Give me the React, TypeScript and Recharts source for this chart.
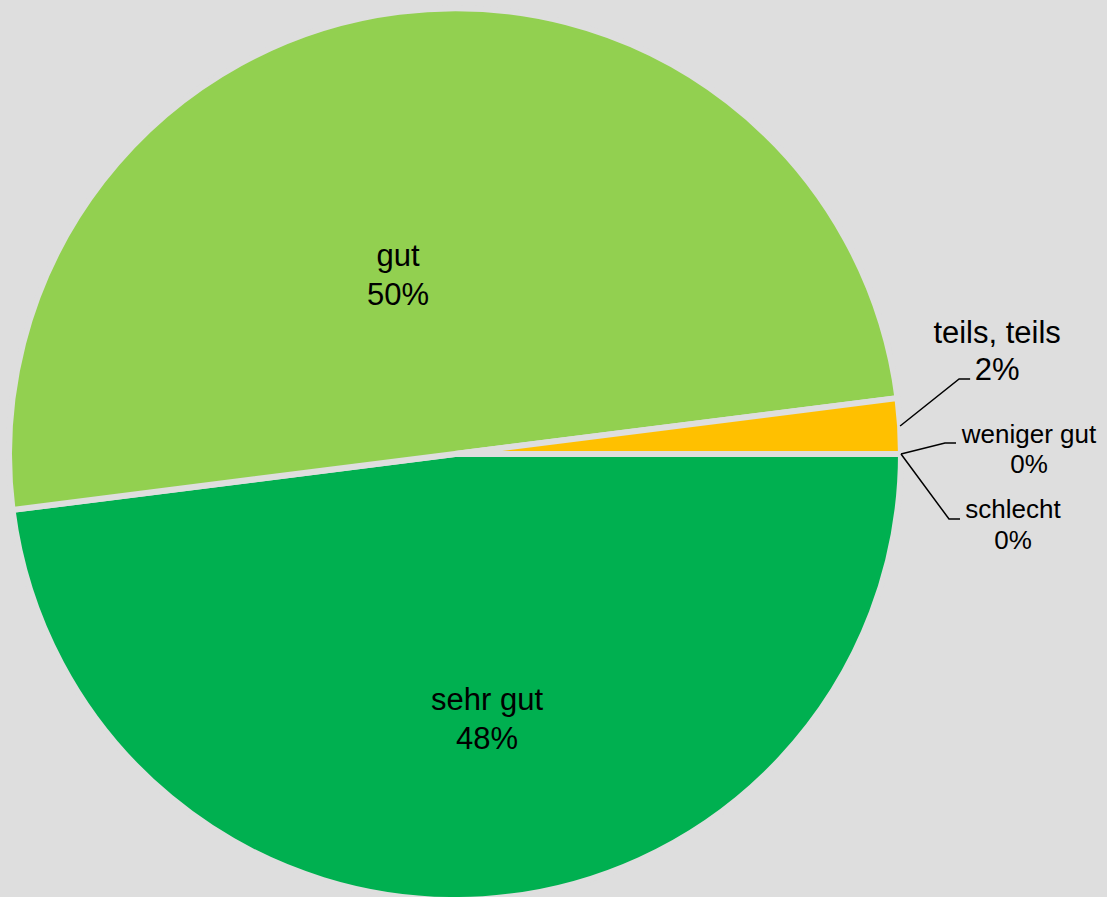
import { Pie, PieChart, Cell } from 'recharts';

const categories = ['sehr gut', 'gut', 'teils, teils', 'weniger gut', 'schlecht'];
const shares = [48, 50, 2, 0, 0];
const sliceColors = ['#00B050', '#92D050', '#FFC000', '#FF9900', '#FF0000'];

const BG = '#dedede';
const FONT = '"Liberation Sans", Arial, sans-serif';
const RADIAN = Math.PI / 180;

const chartData = categories.map((name, i) => ({ name, value: shares[i] }));

// label placement per slice: inside labels get a nudge, outside ones a leader elbow
const LABEL_LAYOUT = [
  { inside: true, dx: 18, dy: 33, size: 31, lh: 39 },
  { inside: true, dx: -29, dy: 33, size: 31, lh: 39 },
  { inside: false, ex: 59, ey: -47, tx: 97, ty: -83, size: 31, lh: 37 },
  { inside: false, ex: 44, ey: -11, tx: 128, ty: -11, size: 26, lh: 30 },
  { inside: false, ex: 48, ey: 65, tx: 112, ty: 64, size: 26, lh: 31 },
];

function polar(cx: number, cy: number, r: number, angle: number) {
  return { x: cx + Math.cos(-angle * RADIAN) * r, y: cy + Math.sin(-angle * RADIAN) * r };
}

function SliceLabel(props: any) {
  const { cx, cy, midAngle, outerRadius, index, name, value } = props;
  const lay = LABEL_LAYOUT[index];
  const pct = `${Math.round(value)}%`;

  if (lay.inside) {
    const p = polar(cx, cy, outerRadius * 0.5, midAngle);
    const x = p.x + lay.dx;
    const y = p.y + lay.dy;
    return (
      <text x={x} y={y} textAnchor="middle" fill="#000" fontSize={lay.size} fontFamily={FONT}>
        <tspan x={x} y={y}>{name}</tspan>
        <tspan x={x} y={y + lay.lh}>{pct}</tspan>
      </text>
    );
  }

  const edge = polar(cx, cy, outerRadius, midAngle);
  const ex = edge.x + lay.ex;
  const ey = edge.y + lay.ey;
  const x = edge.x + lay.tx;
  const y = edge.y + lay.ty;
  return (
    <g>
      <polyline
        points={`${edge.x},${edge.y} ${ex},${ey} ${ex + 11},${ey}`}
        fill="none"
        stroke="#000"
        strokeWidth={1.5}
      />
      <text x={x} y={y} textAnchor="middle" fill="#000" fontSize={lay.size} fontFamily={FONT}>
        <tspan x={x} y={y}>{name}</tspan>
        <tspan x={x} y={y + lay.lh}>{pct}</tspan>
      </text>
    </g>
  );
}

export default function App() {
  return (
    <div style={{ width: 1107, height: 897, background: BG, overflow: 'hidden' }}>
      <style>{'body{margin:0}'}</style>
      <PieChart width={1107} height={897} margin={{ top: 0, right: 0, bottom: 0, left: 0 }}>
        <Pie
          data={chartData}
          dataKey="value"
          nameKey="name"
          cx={455}
          cy={454}
          outerRadius={446}
          startAngle={0}
          endAngle={-360}
          stroke={BG}
          strokeWidth={6}
          labelLine={false}
          label={SliceLabel}
          isAnimationActive={false}
        >
          {chartData.map((d, i) => (
            <Cell key={d.name} fill={sliceColors[i]} />
          ))}
        </Pie>
      </PieChart>
    </div>
  );
}
